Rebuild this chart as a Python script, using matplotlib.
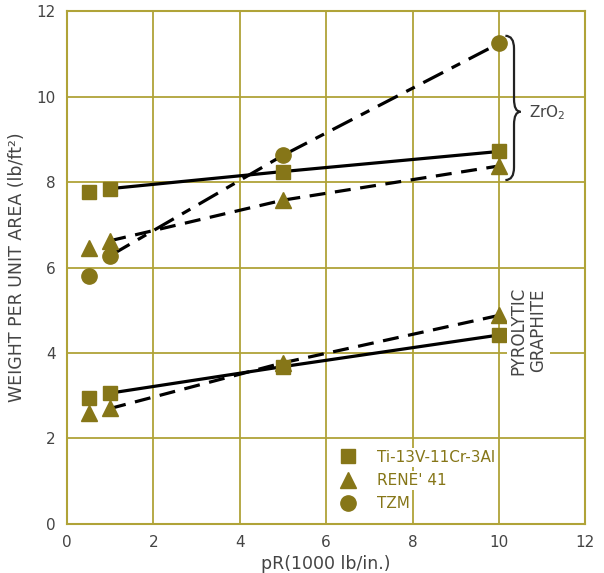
import matplotlib
matplotlib.use("Agg")
import matplotlib.pyplot as plt
from matplotlib.path import Path
from matplotlib.patches import PathPatch

# ---- data ----
pR = [0.5, 1.0, 5.0, 10.0]
ti_zro2 = [7.78, 7.85, 8.25, 8.72]
rene_zro2 = [6.47, 6.63, 7.58, 8.38]
tzm_zro2 = [5.8, 6.28, 8.63, 11.25]
ti_pg = [2.94, 3.06, 3.68, 4.42]
rene_pg = [2.59, 2.7, 3.77, 4.88]

x_ticks = [0, 2, 4, 6, 8, 10, 12]
y_ticks = [0, 2, 4, 6, 8, 10, 12]
legend_labels = ["Ti-13V-11Cr-3Al", "RENE' 41", "TZM"]

MARK = "#867618"
GRID = "#b0a338"
TXT = "#444444"

plt.rcParams['font.family'] = ['DejaVu Sans']

fig = plt.figure(figsize=(6.04, 5.73), dpi=100)
ax = fig.add_axes([0.111, 0.086, 0.858, 0.894])
ax.set_xlim(0, 12)
ax.set_ylim(0, 12)
ax.set_xticks(x_ticks)
ax.set_yticks(y_ticks)
ax.grid(True, color=GRID, lw=1.3, zorder=0)
for s in ax.spines.values():
    s.set_color(GRID)
    s.set_linewidth(1.5)
ax.tick_params(length=0, colors=TXT, labelsize=11, pad=8)

# fitted lines (from second point onward)
ax.plot(pR[1:], ti_zro2[1:], color='black', lw=2.3, zorder=2)
ax.plot(pR[1:], rene_zro2[1:], color='black', lw=2.3, ls=(0, (5, 3)), zorder=2)
ax.plot(pR[1:], tzm_zro2[1:], color='black', lw=2.3, ls=(0, (7, 3, 3, 3)), zorder=2)
ax.plot(pR[1:], ti_pg[1:], color='black', lw=2.3, zorder=2)
ax.plot(pR[1:], rene_pg[1:], color='black', lw=2.3, ls=(0, (5, 3)), zorder=2)

ms = dict(color=MARK, ls='none', zorder=3)
ax.plot(pR, ti_zro2, marker='s', markersize=10.5, **ms)
ax.plot(pR, rene_zro2, marker='^', markersize=11.5, **ms)
ax.plot(pR, tzm_zro2, marker='o', markersize=11, **ms)
ax.plot(pR, ti_pg, marker='s', markersize=10.5, **ms)
ax.plot(pR, rene_pg, marker='^', markersize=11.5, **ms)

# legend proxies
h1, = ax.plot([], [], marker='s', markersize=10.5, **ms)
h2, = ax.plot([], [], marker='^', markersize=11.5, **ms)
h3, = ax.plot([], [], marker='o', markersize=11, **ms)
leg = ax.legend([h1, h2, h3], legend_labels, loc='lower left',
                bbox_to_anchor=(6.05 / 12, 0.0), frameon=False,
                handlelength=1.0, handletextpad=1.4, labelspacing=0.55,
                fontsize=11, borderaxespad=0.3, borderpad=0.5)
for t in leg.get_texts():
    t.set_color(MARK)
    t.set_bbox(dict(facecolor='white', edgecolor='none', pad=1.5))

# annotations
ax.text(10.68, 4.52, "PYROLYTIC\nGRAPHITE", rotation=90, ha='center', va='center',
        fontsize=12, color=TXT, linespacing=1.1,
        bbox=dict(facecolor='white', edgecolor='none', pad=2))

# curly brace for ZrO2 group
top, bot, mid = 11.43, 8.05, 9.65
x0, xm, xt, r = 10.15, 10.35, 10.5, 0.3
verts = [(x0, top), (xm, top), (xm, top - r),
         (xm, mid + r),
         (xm, mid), (xt, mid),
         (xm, mid), (xm, mid - r),
         (xm, bot + r),
         (xm, bot), (x0, bot)]
codes = [Path.MOVETO, Path.CURVE3, Path.CURVE3,
         Path.LINETO,
         Path.CURVE3, Path.CURVE3,
         Path.CURVE3, Path.CURVE3,
         Path.LINETO,
         Path.CURVE3, Path.CURVE3]
ax.add_patch(PathPatch(Path(verts, codes), fill=False, lw=1.6,
                       edgecolor='#222222', zorder=4, clip_on=False))
ax.text(10.7, 9.62, "ZrO$_2$", fontsize=11, ha='left', va='center', color=TXT)

ax.set_xlabel("pR(1000 lb/in.)", fontsize=12.5, color=TXT, labelpad=4)
ax.set_ylabel("WEIGHT PER UNIT AREA (lb/ft²)", fontsize=12.5, color=TXT, labelpad=8)

fig.savefig("out.png", dpi=100)
